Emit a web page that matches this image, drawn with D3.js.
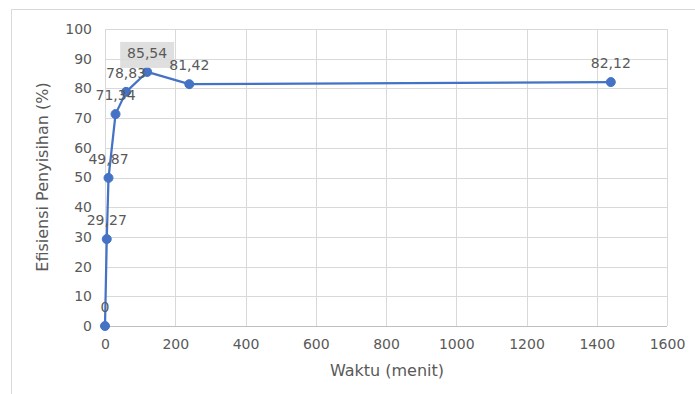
<!DOCTYPE html>
<html>
<head>
<meta charset="utf-8">
<script src="https://cdn.jsdelivr.net/npm/d3@7"></script>
<style>
  html, body { margin: 0; padding: 0; background: #fff; }
  svg { display: block; }
  text { font-family: "DejaVu Sans", sans-serif; fill: #595959; }
</style>
</head>
<body>
<svg id="chart" width="695" height="394"></svg>
<script>
const waktu = [0, 5, 10, 30, 60, 120, 240, 1440];
const efisiensi = [0, 29.27, 49.87, 71.34, 78.83, 85.54, 81.42, 82.12];
const labels = ["0", "29,27", "49,87", "71,34", "78,83", "85,54", "81,42", "82,12"];
const xTicks = [0, 200, 400, 600, 800, 1000, 1200, 1400, 1600];
const yTicks = [0, 10, 20, 30, 40, 50, 60, 70, 80, 90, 100];
const xTitle = "Waktu (menit)";
const yTitle = "Efisiensi Penyisihan (%)";

const svg = d3.select("#chart");
const W = 695, H = 394;
const m = { left: 105, right: 667, top: 29, bottom: 326 };

// outer chart border
svg.append("path")
  .attr("d", `M11.5,${H} V9.5 H${W}`)
  .attr("fill", "none").attr("stroke", "#d9d9d9").attr("stroke-width", 1);

const x = d3.scaleLinear().domain([0, 1600]).range([m.left, m.right]);
const y = d3.scaleLinear().domain([0, 100]).range([m.bottom, m.top]);

// gridlines
svg.append("g").selectAll("line").data(yTicks).join("line")
  .attr("x1", m.left).attr("x2", m.right)
  .attr("y1", d => Math.round(y(d)) + 0.5).attr("y2", d => Math.round(y(d)) + 0.5)
  .attr("stroke", d => d === 0 ? "#bfbfbf" : "#d9d9d9").attr("stroke-width", 1);
svg.append("g").selectAll("line").data(xTicks).join("line")
  .attr("y1", m.top).attr("y2", m.bottom)
  .attr("x1", d => Math.round(x(d)) + 0.5).attr("x2", d => Math.round(x(d)) + 0.5)
  .attr("stroke", "#d9d9d9").attr("stroke-width", 1);

// axes (labels only)
const xAxis = d3.axisBottom(x).tickValues(xTicks).tickSize(0).tickPadding(13).tickFormat(d3.format("d"));
const gx = svg.append("g").attr("transform", `translate(0,${m.bottom})`).call(xAxis);
gx.select(".domain").remove();
gx.selectAll("text").attr("font-size", 14).attr("font-family", "DejaVu Sans").attr("fill", "#595959");

const yAxis = d3.axisLeft(y).tickValues(yTicks).tickSize(0).tickPadding(13).tickFormat(d3.format("d"));
const gy = svg.append("g").attr("transform", `translate(${m.left},0)`).call(yAxis);
gy.select(".domain").remove();
gy.selectAll("text").attr("font-size", 14).attr("font-family", "DejaVu Sans").attr("fill", "#595959");

// axis titles
svg.append("text").attr("x", 387).attr("y", 376).attr("text-anchor", "middle")
  .attr("font-size", 16).text(xTitle);
svg.append("text").attr("transform", "translate(48,177) rotate(-90)").attr("text-anchor", "middle")
  .attr("font-size", 16).text(yTitle);

// data
const data = waktu.map((w, i) => ({ w, v: efisiensi[i], l: labels[i] }));
const line = d3.line().x(d => x(d.w)).y(d => y(d.v));
svg.append("path").datum(data).attr("d", line)
  .attr("fill", "none").attr("stroke", "#4472C4").attr("stroke-width", 2.25)
  .attr("stroke-linejoin", "round");
svg.append("g").selectAll("circle").data(data).join("circle")
  .attr("cx", d => x(d.w)).attr("cy", d => y(d.v)).attr("r", 4.5)
  .attr("fill", "#4472C4").attr("stroke", "#4472C4");

// highlighted label box for max
const maxI = efisiensi.indexOf(d3.max(efisiensi));
const md = data[maxI];
svg.append("rect")
  .attr("x", x(md.w) - 27).attr("y", y(md.v) - 30).attr("width", 54).attr("height", 26)
  .attr("fill", "#d9d9d9").attr("opacity", 0.85);

svg.append("g").selectAll("text").data(data).join("text")
  .attr("x", d => x(d.w)).attr("y", d => y(d.v) - 14)
  .attr("text-anchor", "middle").attr("font-size", 14).attr("fill", "#404040")
  .text(d => d.l);
</script>
</body>
</html>
